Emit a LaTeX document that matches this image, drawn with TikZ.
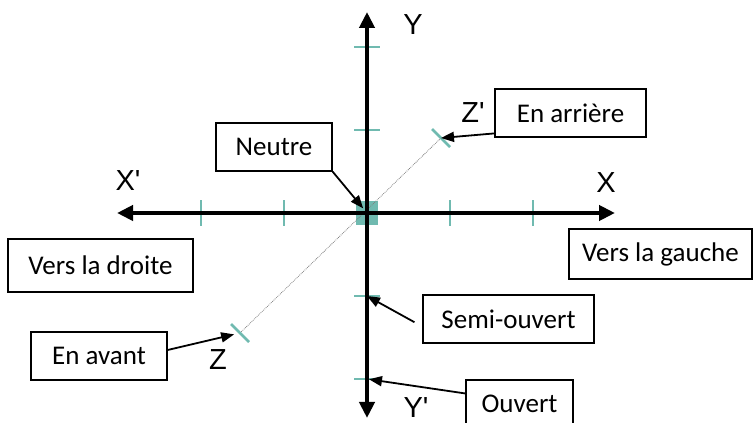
\documentclass[tikz,border=0pt]{standalone}
\usepackage{fontspec}
\setmainfont{Carlito}
\newfontfamily\axisfont{Liberation Sans}
\usetikzlibrary{arrows.meta}
\definecolor{tickteal}{RGB}{112,186,176}
\tikzset{
  axis/.style={line width=4.5pt,{Triangle[length=16pt,width=15pt]}-{Triangle[length=16pt,width=15pt]}},
  tickmark/.style={tickteal,line width=2.5pt},
  labelbox/.style={draw,line width=1.4pt,minimum height=48pt,inner sep=0pt,font=\fontsize{27}{32}\selectfont},
  axislabel/.style={font=\axisfont\fontsize{29}{32}\selectfont},
  conn/.style={line width=1.8pt,-{Triangle[length=13pt,width=10pt]}}
}

\begin{document}
\begin{tikzpicture}[x=1pt,y=1pt]
    \useasboundingbox (0,0) rectangle (755,423);
    \coordinate (o) at (367,210);
    \coordinate (z) at (240,90);
    \coordinate (zp) at (441,285);
    % graduations
    \fill[tickteal] (o) ++(-11,-12) rectangle ++(22,24);
    \foreach \d/\n in {-166/a,-83/b,83/c,166/d} {
        \draw[tickmark] (367+\d,197) -- (367+\d,223);
        \draw[tickmark] (354,210+\d) -- (380,210+\d) coordinate[pos=0.5] (ty\n);
    }
    \draw[gray,densely dotted,line width=0.8pt] (z) -- (zp);
    \draw[tickmark] (z) ++(-9,9) -- ++(18,-18);
    \draw[tickmark] (zp) ++(-9,9) -- ++(18,-18);
    % axes
    \draw[axis] (117,210) -- (615,210);
    \draw[axis] (367,5) -- (367,411);
    \node[axislabel] (ly) at (413,398) {Y};
    \node[axislabel] (lyp) at (416,15) {Y'};
    \node[axislabel] (lx) at (606,240) {X};
    \node[axislabel] (lxp) at (128,242) {X'};
    \node[axislabel] (lz) at (218,63) {Z};
    \node[axislabel] (lzp) at (473,310) {Z'};
    % cadres
    \node[labelbox,minimum width=116pt] (neutre) at (274,276) {Neutre};
    \node[labelbox,minimum width=151pt] (arriere) at (570.5,310) {En arri\`ere};
    \node[labelbox,minimum width=183pt,minimum height=50pt] (gauche) at (660.5,169) {Vers la gauche};
    \node[labelbox,minimum width=185pt,minimum height=53pt] (droite) at (100.5,157.5) {Vers la droite};
    \node[labelbox,minimum width=136pt] (avant) at (99,67) {En avant};
    \node[labelbox,minimum width=171pt] (semi) at (508.5,104) {Semi-ouvert};
    \node[labelbox,minimum width=107pt] (ouvert) at (519.5,19) {Ouvert};
    % fleches
    \draw[conn,shorten >=6pt] (neutre.south east) -- (o);
    \draw[conn] (arriere.195) -- (zp);
    \draw[conn,shorten >=6pt] (avant.5) -- (z);
    \draw[conn,shorten <=9pt] (semi.185) -- (tyb);
    \draw[conn,shorten >=2pt] (ouvert.169) -- (tya);
\end{tikzpicture}
\end{document}
